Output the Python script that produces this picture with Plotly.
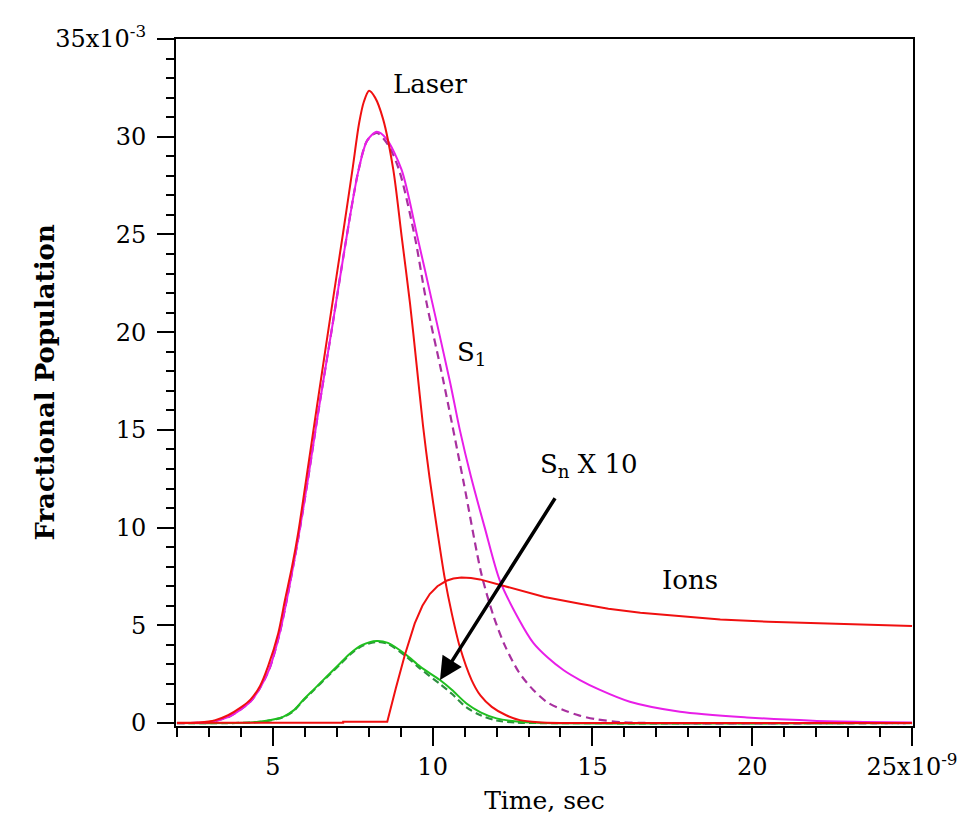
import plotly.graph_objects as go

# time in ns (axis shows x10^-9 s), population in units of 1e-3
laser_t = [2.0, 2.7, 3.2, 3.6, 4.0, 4.3, 4.6, 4.85, 5.17, 5.38, 5.6, 5.79, 6.1, 6.38, 6.8, 7.2, 7.49, 7.7, 7.85, 8.01,
           8.2, 8.45, 8.77, 9.03, 9.29, 9.5, 9.7, 9.9, 10.15, 10.38, 10.6, 10.85, 11.22, 11.5, 11.85, 12.3, 12.73, 13.3, 14.0, 25.0]
laser_y = [0.0, 0.03, 0.15, 0.4, 0.8, 1.2, 1.9, 2.9, 4.6, 6.3, 8.0, 9.7, 13.1, 16.2, 20.8, 25.1, 28.3, 30.7, 31.8, 32.35,
           32.0, 30.9, 28.3, 24.9, 21.5, 18.3, 15.2, 12.6, 9.8, 7.4, 5.6, 3.9, 2.2, 1.4, 0.83, 0.4, 0.15, 0.04, 0.0, 0.0]

s1_t = [2.0, 3.0, 3.6, 4.0, 4.3, 4.6, 4.9, 5.2, 5.4, 5.8, 6.12, 6.42, 6.87, 7.25, 7.67, 7.95, 8.25, 8.55, 9.03, 9.52,
        9.99, 10.55, 10.85, 11.2, 11.63, 12.1, 12.7, 13.15, 13.6, 14.1, 14.61, 15.2, 16.17, 17.74, 19.83, 21.9, 23.5, 25.0]
s1_y = [0.0, 0.05, 0.3, 0.7, 1.1, 1.8, 2.8, 4.5, 6.0, 9.5, 12.7, 15.9, 20.4, 24.3, 28.2, 29.8, 30.25, 29.9, 28.3, 24.9,
        21.5, 17.4, 15.0, 12.6, 10.0, 7.3, 5.3, 4.1, 3.35, 2.7, 2.2, 1.72, 1.09, 0.58, 0.29, 0.12, 0.06, 0.03]

s1_dash_t = [2.0, 3.0, 3.6, 4.0, 4.3, 4.6, 4.9, 5.2, 5.4, 5.8, 6.12, 6.42, 6.87, 7.25, 7.67, 7.95, 8.25, 8.6, 8.95, 9.44,
             9.81, 10.33, 10.96, 11.53, 11.9, 12.25, 12.7, 13.15, 13.6, 14.09, 14.6, 15.13, 15.9, 17.0, 25.0]
s1_dash_y = [0.0, 0.05, 0.3, 0.7, 1.1, 1.8, 2.8, 4.5, 6.0, 9.5, 12.7, 15.9, 20.4, 24.3, 28.2, 29.8, 30.2, 29.6, 28.3, 24.9,
             21.5, 17.55, 12.4, 7.6, 5.5, 4.0, 2.6, 1.69, 1.05, 0.67, 0.38, 0.19, 0.05, 0.0, 0.0]

sn_t = [2.0, 3.5, 4.3, 4.8, 5.32, 5.65, 5.95, 6.3, 6.68, 7.1, 7.41, 7.8, 8.25, 8.6, 9.18, 9.6, 10.23, 10.6, 11.06,
        11.5, 12.0, 12.8, 13.5, 25.0]
sn_y = [0.0, 0.0, 0.03, 0.12, 0.32, 0.65, 1.18, 1.75, 2.37, 3.05, 3.55, 4.0, 4.2, 4.1, 3.48, 2.9, 2.2, 1.7, 1.0,
        0.55, 0.24, 0.05, 0.0, 0.0]

sn_dash_t = [2.0, 3.5, 4.3, 4.8, 5.32, 5.65, 5.95, 6.3, 6.68, 7.1, 7.41, 7.8, 8.25, 8.6, 9.18, 9.6, 10.23, 10.6, 11.06,
             11.5, 12.0, 12.6, 13.5, 25.0]
sn_dash_y = [0.0, 0.0, 0.02, 0.1, 0.3, 0.62, 1.15, 1.72, 2.33, 3.0, 3.5, 3.95, 4.15, 4.05, 3.4, 2.8, 2.0, 1.5, 0.8,
             0.4, 0.13, 0.03, 0.0, 0.0]

ions_t = [2.0, 7.2, 7.2, 8.58, 8.85, 9.13, 9.44, 9.68, 9.91, 10.15, 10.43, 10.65, 10.9, 11.2, 11.48, 12.0, 12.52, 13.5,
          14.61, 15.5, 16.5, 17.74, 19.0, 20.5, 21.49, 23.0, 25.0]
ions_y = [0.02, 0.02, 0.07, 0.07, 1.8, 3.48, 5.1, 6.0, 6.6, 7.0, 7.28, 7.4, 7.45, 7.42, 7.35, 7.12, 6.89, 6.45,
          6.1, 5.85, 5.65, 5.47, 5.3, 5.18, 5.13, 5.05, 4.97]

x_tickvals = [5, 10, 15, 20, 25]
x_ticktext = ["5", "10", "15", "20", "25x10<sup>-9</sup>"]
y_tickvals = [0, 5, 10, 15, 20, 25, 30, 35]
y_ticktext = ["0", "5", "10", "15", "20", "25", "30", "35x10<sup>-3</sup>"]

FONT = "DejaVu Serif"
RED = "#f01010"
MAGENTA = "#e81ee8"
PURPLE = "#a8309f"
GREEN = "#1fbf1f"
DGREEN = "#2e9040"
SM = 0.8

fig = go.Figure()
fig.add_trace(go.Scatter(x=sn_dash_t, y=sn_dash_y, mode="lines", line=dict(color=DGREEN, width=2.2, dash="7px,4px", shape="spline", smoothing=SM), name="Sn (dashed)"))
fig.add_trace(go.Scatter(x=sn_t, y=sn_y, mode="lines", line=dict(color=GREEN, width=2, shape="spline", smoothing=SM), name="Sn x 10"))
fig.add_trace(go.Scatter(x=s1_dash_t, y=s1_dash_y, mode="lines", line=dict(color=PURPLE, width=2.2, dash="8px,5px", shape="spline", smoothing=SM), name="S1 (dashed)"))
fig.add_trace(go.Scatter(x=s1_t, y=s1_y, mode="lines", line=dict(color=MAGENTA, width=2, shape="spline", smoothing=SM), name="S1"))
fig.add_trace(go.Scatter(x=ions_t, y=ions_y, mode="lines", line=dict(color=RED, width=2), name="Ions"))
fig.add_trace(go.Scatter(x=laser_t, y=laser_y, mode="lines", line=dict(color=RED, width=2, shape="spline", smoothing=SM), name="Laser"))

ann_font = dict(family=FONT, size=26, color="black")
fig.add_annotation(x=9.91, y=32.7, text="Laser", showarrow=False, font=ann_font)
fig.add_annotation(x=11.23, y=18.9, text="S<sub>1</sub>", showarrow=False, font=ann_font)
fig.add_annotation(x=14.89, y=13.2, text="S<sub>n</sub> X 10", showarrow=False, font=ann_font)
fig.add_annotation(x=18.05, y=7.32, text="Ions", showarrow=False, font=ann_font)
fig.add_annotation(x=10.23, y=2.2, ax=13.86, ay=11.58, xref="x", yref="y", axref="x", ayref="y",
                   text="", showarrow=True, arrowhead=2, arrowsize=1.3, arrowwidth=3.5, arrowcolor="black")
# y-axis title placed as a rotated annotation for exact positioning
fig.add_annotation(x=-0.179, y=0.5, xref="paper", yref="paper", xanchor="center", yanchor="middle",
                   text="<b>Fractional Population</b>", textangle=-90, showarrow=False,
                   font=dict(family=FONT, size=26, color="black"))

fig.update_layout(
    width=980, height=831,
    margin=dict(l=168, r=75, t=31, b=113),
    paper_bgcolor="white", plot_bgcolor="white",
    showlegend=False,
    font=dict(family=FONT, size=24, color="black"),
    xaxis=dict(range=[1.97, 25.03], tickvals=x_tickvals, ticktext=x_ticktext,
               ticks="outside", ticklen=18, tickwidth=2, tickcolor="black",
               minor=dict(dtick=1, tick0=0, ticks="outside", ticklen=9, tickwidth=2, tickcolor="black"),
               showline=True, linecolor="black", linewidth=2, mirror=True,
               showgrid=False, zeroline=False, ticklabelstandoff=0,
               tickfont=dict(family=FONT, size=24),
               title=dict(text="Time, sec", font=dict(family=FONT, size=25), standoff=12)),
    yaxis=dict(range=[-0.15, 35.0], tickvals=y_tickvals, ticktext=y_ticktext,
               ticks="outside", ticklen=17, tickwidth=2, tickcolor="black",
               minor=dict(dtick=1, tick0=0, ticks="outside", ticklen=8, tickwidth=2, tickcolor="black"),
               showline=True, linecolor="black", linewidth=2, mirror=True,
               showgrid=False, zeroline=False, ticklabelstandoff=6,
               tickfont=dict(family=FONT, size=24)),
)

fig.write_html("out.html")
